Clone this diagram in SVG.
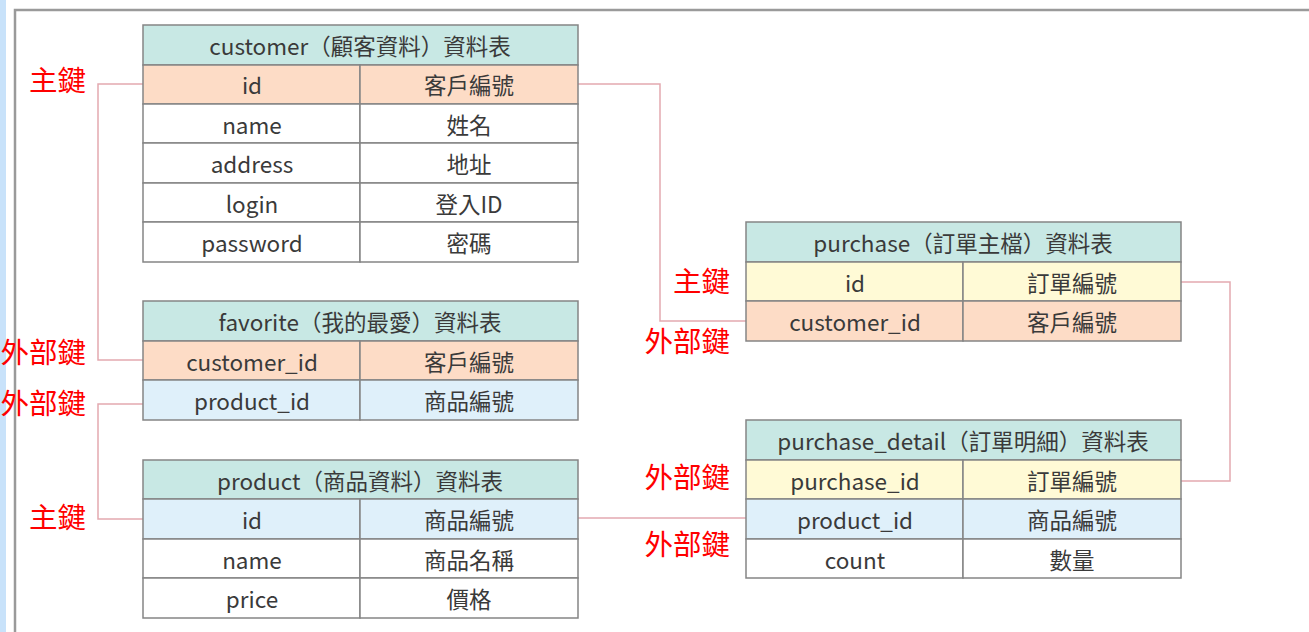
<svg xmlns="http://www.w3.org/2000/svg" width="1309" height="632" viewBox="0 0 1309 632">
<style>
.t{font-family:"Noto Sans CJK TC","Noto Sans",sans-serif;font-size:22.5px;fill:#3a3a3a;text-anchor:middle;dominant-baseline:central}
.k{font-family:"Noto Sans CJK TC",sans-serif;font-size:28.5px;fill:#ff0000;text-anchor:end;dominant-baseline:central}
.cell{stroke:#858585;stroke-width:1.5}
.h{fill:#c8e8e4}.o{fill:#fddcc6}.y{fill:#fffad6}.b{fill:#dff0fa}.w{fill:#ffffff}
.c{fill:none;stroke:#e3a9b0;stroke-width:1.5}
</style>
<rect x="0" y="0" width="1309" height="632" fill="#ffffff"/>
<rect x="0" y="0" width="6" height="632" fill="#c8e2fa"/>
<path d="M15 632 V10 H1309" fill="none" stroke="#9a9a9a" stroke-width="2.5"/>

<g id="connectors">
<polyline class="c" points="143,84 98,84 98,360 143,360"/>
<polyline class="c" points="578,84 660,84 660,321 746,321"/>
<polyline class="c" points="143,404 98,404 98,519 143,519"/>
<polyline class="c" points="578,518 746,518"/>
<polyline class="c" points="1181,282 1230,282 1230,481 1181,481"/>
</g>

<g id="labels">
<text class="k" x="86" y="78">主鍵</text>
<text class="k" x="86" y="350">外部鍵</text>
<text class="k" x="86" y="401">外部鍵</text>
<text class="k" x="86" y="515">主鍵</text>
<text class="k" x="730" y="279">主鍵</text>
<text class="k" x="730" y="339">外部鍵</text>
<text class="k" x="730" y="475">外部鍵</text>
<text class="k" x="730" y="542">外部鍵</text>
</g>

<g id="customer">
<rect class="cell h" x="143" y="25" width="435" height="40"/>
<text class="t" x="360" y="45">customer（顧客資料）資料表</text>
<rect class="cell o" x="143" y="65" width="217" height="39"/><rect class="cell o" x="360" y="65" width="218" height="39"/>
<text class="t" x="252" y="84">id</text><text class="t" x="469" y="84">客戶編號</text>
<rect class="cell w" x="143" y="104" width="217" height="39"/><rect class="cell w" x="360" y="104" width="218" height="39"/>
<text class="t" x="252" y="124">name</text><text class="t" x="469" y="124">姓名</text>
<rect class="cell w" x="143" y="143" width="217" height="40"/><rect class="cell w" x="360" y="143" width="218" height="40"/>
<text class="t" x="252" y="163">address</text><text class="t" x="469" y="163">地址</text>
<rect class="cell w" x="143" y="183" width="217" height="39"/><rect class="cell w" x="360" y="183" width="218" height="39"/>
<text class="t" x="252" y="203">login</text><text class="t" x="469" y="203">登入ID</text>
<rect class="cell w" x="143" y="222" width="217" height="40"/><rect class="cell w" x="360" y="222" width="218" height="40"/>
<text class="t" x="252" y="242">password</text><text class="t" x="469" y="242">密碼</text>
</g>

<g id="favorite">
<rect class="cell h" x="143" y="301" width="435" height="40"/>
<text class="t" x="360" y="321">favorite（我的最愛）資料表</text>
<rect class="cell o" x="143" y="341" width="217" height="39"/><rect class="cell o" x="360" y="341" width="218" height="39"/>
<text class="t" x="252" y="361">customer_id</text><text class="t" x="469" y="361">客戶編號</text>
<rect class="cell b" x="143" y="380" width="217" height="40"/><rect class="cell b" x="360" y="380" width="218" height="40"/>
<text class="t" x="252" y="400">product_id</text><text class="t" x="469" y="400">商品編號</text>
</g>

<g id="product">
<rect class="cell h" x="143" y="460" width="435" height="39"/>
<text class="t" x="360" y="480">product（商品資料）資料表</text>
<rect class="cell b" x="143" y="499" width="217" height="40"/><rect class="cell b" x="360" y="499" width="218" height="40"/>
<text class="t" x="252" y="519">id</text><text class="t" x="469" y="519">商品編號</text>
<rect class="cell w" x="143" y="539" width="217" height="39"/><rect class="cell w" x="360" y="539" width="218" height="39"/>
<text class="t" x="252" y="559">name</text><text class="t" x="469" y="559">商品名稱</text>
<rect class="cell w" x="143" y="578" width="217" height="40"/><rect class="cell w" x="360" y="578" width="218" height="40"/>
<text class="t" x="252" y="598">price</text><text class="t" x="469" y="598">價格</text>
</g>

<g id="purchase">
<rect class="cell h" x="746" y="222" width="435" height="40"/>
<text class="t" x="963" y="242">purchase（訂單主檔）資料表</text>
<rect class="cell y" x="746" y="262" width="217" height="39"/><rect class="cell y" x="963" y="262" width="218" height="39"/>
<text class="t" x="855" y="282">id</text><text class="t" x="1072" y="282">訂單編號</text>
<rect class="cell o" x="746" y="301" width="217" height="40"/><rect class="cell o" x="963" y="301" width="218" height="40"/>
<text class="t" x="855" y="321">customer_id</text><text class="t" x="1072" y="321">客戶編號</text>
</g>

<g id="purchase_detail">
<rect class="cell h" x="746" y="420" width="435" height="40"/>
<text class="t" x="963" y="440">purchase_detail（訂單明細）資料表</text>
<rect class="cell y" x="746" y="460" width="217" height="39"/><rect class="cell y" x="963" y="460" width="218" height="39"/>
<text class="t" x="855" y="480">purchase_id</text><text class="t" x="1072" y="480">訂單編號</text>
<rect class="cell b" x="746" y="499" width="217" height="40"/><rect class="cell b" x="963" y="499" width="218" height="40"/>
<text class="t" x="855" y="519">product_id</text><text class="t" x="1072" y="519">商品編號</text>
<rect class="cell w" x="746" y="539" width="217" height="39"/><rect class="cell w" x="963" y="539" width="218" height="39"/>
<text class="t" x="855" y="559">count</text><text class="t" x="1072" y="559">數量</text>
</g>
</svg>
